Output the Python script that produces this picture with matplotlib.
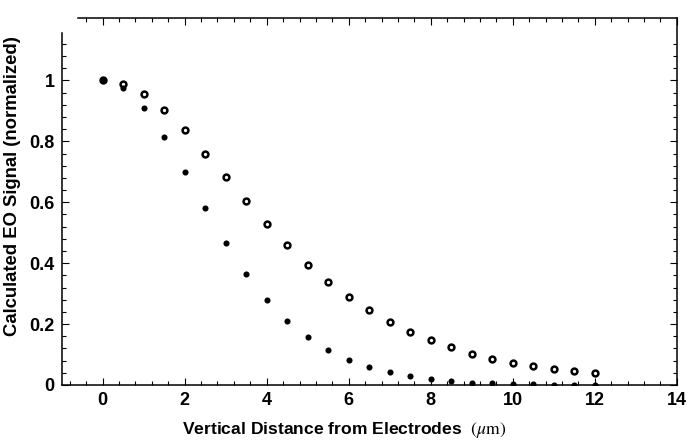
import matplotlib
matplotlib.use('Agg')
import matplotlib.pyplot as plt
from matplotlib.ticker import FixedLocator
import numpy as np

# distances (um)
dist = [0, 0.5, 1, 1.5, 2, 2.5, 3, 3.5, 4, 4.5, 5, 5.5, 6, 6.5, 7, 7.5,
        8, 8.5, 9, 9.5, 10, 10.5, 11, 11.5, 12]

# open circles
sig_open = [1.0, 0.989, 0.954, 0.902, 0.837, 0.760, 0.684, 0.605, 0.528, 0.459,
            0.395, 0.339, 0.289, 0.245, 0.207, 0.174, 0.147, 0.124, 0.103,
            0.086, 0.073, 0.061, 0.052, 0.046, 0.040]

# filled dots
sig_filled = [1.0, 0.975, 0.91, 0.815, 0.70, 0.581, 0.466, 0.365, 0.279, 0.210,
              0.157, 0.114, 0.082, 0.060, 0.041, 0.029, 0.019, 0.013, 0.008,
              0.005, 0.003, 0.002, 0.001, 0.001, 0.0005]

xticks = [0, 2, 4, 6, 8, 10, 12, 14]
yticks = [0, 0.2, 0.4, 0.6, 0.8, 1]
ytick_labels = ['0', '0.2', '0.4', '0.6', '0.8', '1']

plt.rcParams['font.family'] = ['Liberation Sans', 'DejaVu Sans']
plt.rcParams['mathtext.fontset'] = 'stix'

fig = plt.figure(figsize=(7, 4.44), dpi=100)
ax = fig.add_axes([0.088, 0.133, 0.879, 0.827])

ax.plot(dist, sig_open, 'o', ms=4.2, mfc='white', mec='black', mew=1.8, ls='none')
ax.plot(dist, sig_filled, 'o', ms=4.4, mfc='black', mec='black', mew=0, ls='none')

ax.set_xlim(-1, 14)
ax.set_ylim(0, 1.206)
ax.set_xticks(xticks)
ax.set_xticklabels([str(v) for v in xticks])
ax.set_yticks(yticks)
ax.set_yticklabels(ytick_labels)
ax.xaxis.set_minor_locator(FixedLocator(np.arange(-0.8, 14, 0.4)))
ax.yaxis.set_minor_locator(FixedLocator(np.arange(0.04, 1.13, 0.04)))

# frame is broken at the top-left corner in the original
ax.spines['left'].set_bounds(0, 1.157)
ax.spines['top'].set_bounds(-0.6, 14)

ax.tick_params(which='both', direction='in', top=True, right=True, width=0.8)
ax.tick_params(which='major', length=5, labelsize=13, pad=5)
ax.tick_params(which='minor', length=3)
# no top tick left of where the top frame line starts
ax.xaxis.get_minor_ticks()[0].tick2line.set_visible(False)
for lbl in ax.get_xticklabels() + ax.get_yticklabels():
    lbl.set_fontweight('bold')
for s in ax.spines.values():
    s.set_linewidth(1.1)

ax.set_xlabel(r'Vertical Distance from Electrodes  $\left(\mu\mathrm{m}\right)$',
              fontsize=12.6, fontweight='bold', labelpad=8)
ax.set_ylabel('Calculated EO Signal (normalized)', fontsize=13.3,
              fontweight='bold', labelpad=6)
ax.xaxis.label.set_x(0.46)
ax.yaxis.label.set_y(0.541)

fig.savefig('out.png', dpi=100)
